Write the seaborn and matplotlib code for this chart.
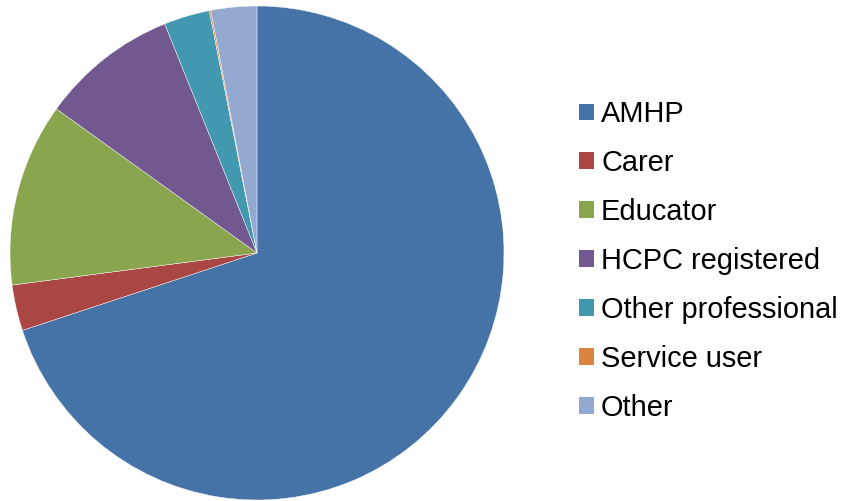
import matplotlib
matplotlib.use("Agg")
import matplotlib.pyplot as plt
from matplotlib.patches import Patch
import seaborn as sns

categories = ["AMHP", "Carer", "Educator", "HCPC registered", "Other professional", "Service user", "Other"]
values = [70, 3, 12, 9, 3, 0.1, 3]
colors = ["#4572A7", "#AA4643", "#89A54E", "#71588F", "#4198AF", "#DB843D", "#93A9CF"]

sns.set_theme(style="white")
plt.rcParams['font.family'] = ['Liberation Sans', 'DejaVu Sans']
plt.rcParams['text.color'] = 'black'

fig = plt.figure(figsize=(8.47, 5.01), dpi=100)
ax = fig.add_axes([10/847, (501-253-247)/501, 494/847, 494/501])
ax.pie(values, colors=colors, startangle=90, counterclock=False, radius=1,
       wedgeprops=dict(edgecolor="white", linewidth=0.3))
ax.set_xlim(-1, 1)
ax.set_ylim(-1, 1)
ax.set_aspect("equal")
ax.axis("off")

handles = [Patch(facecolor=c, edgecolor="none") for c in colors]
fs = 20.9
leg = fig.legend(handles, categories, loc="center left",
                 bbox_to_anchor=(579/847, 1-261/501), frameon=False,
                 fontsize=fs, handlelength=0.52, handleheight=0.52,
                 handletextpad=0.24, labelspacing=0.72, borderaxespad=0, borderpad=0,
                 labelcolor="black")
fig.savefig("out.png", dpi=100, facecolor="white")
